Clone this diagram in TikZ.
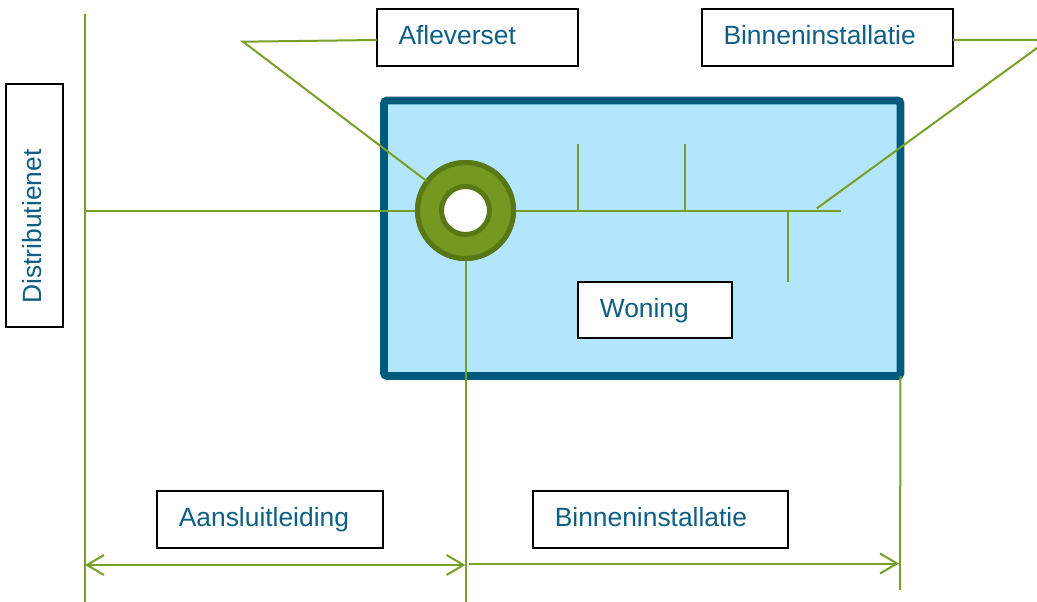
\documentclass[tikz,border=0pt]{standalone}
\usepackage{fontspec}
\setmainfont{Liberation Sans}
\usetikzlibrary{arrows.meta}
\definecolor{pipe}{RGB}{120,160,40}
\definecolor{ringfill}{RGB}{117,152,32}
\definecolor{ringedge}{RGB}{88,120,22}
\definecolor{houseedge}{RGB}{0,90,126}
\definecolor{housefill}{RGB}{179,229,252}
\definecolor{txt}{RGB}{14,95,133}
\begin{document}
\begin{tikzpicture}[x=1pt,y=-1pt,
  lbl/.style={draw=black, line width=1.8pt, fill=white, anchor=north west,
    inner xsep=21.5pt, inner ysep=0pt, align=left, text=txt,
    font=\fontsize{26.4}{30}\selectfont, text height=19pt, text depth=5pt, outer sep=0pt},
  pipeline/.style={draw=pipe, line width=2pt},
  dim/.style={pipeline, >={Straight Barb[length=17pt,width=20pt]}}]
\useasboundingbox (0,0) rectangle (1037,602);
\clip (0,0) rectangle (1037,602);

% house
\node[draw=houseedge, fill=housefill, line width=7.7pt, rounded corners=3pt,
  minimum width=516.5pt, minimum height=275.5pt, outer sep=0pt, inner sep=0pt]
  (house) at (642.25,238.25) {};

% coordinates
\coordinate (ltop) at (85,14);
\coordinate (lbot) at (85,602);
\coordinate (tap) at (85,210.5);
\coordinate (pend) at (841,210.5);
\coordinate (s1b) at (578,210.5);
\coordinate (s1t) at (578,144);
\coordinate (s2b) at (685,210.5);
\coordinate (s2t) at (685,144);
\coordinate (s3t) at (788,210.5);
\coordinate (s3b) at (788,282);
\coordinate (cv1) at (243,41.7);
\coordinate (cv2) at (1048,40);
\coordinate (cend2) at (816.7,208.5);
\coordinate (mbot) at (465.5,602);
\coordinate (rbot) at (900,590);
\coordinate (a1l) at (85,565);
\coordinate (a1r) at (465.5,565);
\coordinate (a2l) at (469,563.5);
\coordinate (a2r) at (899,563.5);

% ring
\node[circle, draw=ringedge, fill=ringfill, line width=5pt, minimum size=96pt,
  inner sep=0pt, outer sep=0pt] (ring) at (465.5,210.5) {};

% pipes
\draw[pipeline] (ltop) -- (lbot);
\draw[pipeline] (tap) -- (ring.west);
\draw[pipeline] (ring.east) -- (pend);
\draw[pipeline] (s1b) -- (s1t);
\draw[pipeline] (s2b) -- (s2t);
\draw[pipeline] (s3t) -- (s3b);
\draw[pipeline] (ring.south) -- (mbot);
\draw[pipeline] (house.south east) -- (rbot);
\draw[dim, <->] (a1l) -- (a1r);
\draw[dim, ->] (a2l) -- (a2r);

% redraw ring on top of pipe ends
\node[circle, draw=ringedge, fill=ringfill, line width=5pt, minimum size=96pt,
  inner sep=0pt, outer sep=0pt] (ringtop) at (ring) {};
\node[circle, draw=ringedge, fill=white, line width=5pt, minimum size=48pt,
  inner sep=0pt, outer sep=0pt] (hole) at (ring) {};

% labels
\node[lbl, minimum width=201pt, minimum height=56.4pt, text width=158pt] (afl) at (377,9.3) {Afleverset};
\node[lbl, minimum width=251pt, minimum height=56.4pt, text width=208pt] (bi1) at (702,9.3) {Binneninstallatie};
\node[lbl, minimum width=153.4pt, minimum height=56.6pt, text width=110.4pt] (won) at (578.3,281.7) {Woning};
\node[lbl, minimum width=225.4pt, minimum height=57.3pt, text width=182.4pt] (aans) at (157.3,491) {Aansluitleiding};
\node[lbl, minimum width=255pt, minimum height=57.3pt, text width=212pt] (bi2) at (533.3,491) {Binneninstallatie};
\node[lbl, anchor=center, rotate=90, inner xsep=23pt, minimum width=242.7pt, minimum height=57pt, text width=196.7pt] (dist) at (34.2,205.3) {Distributienet};

% callouts
\draw[pipeline] (afl.west |- 0,40) -- (cv1) -- (ring);
\draw[pipeline] (bi1.east |- cv2) -- (cv2) -- (cend2);
\end{tikzpicture}
\end{document}
